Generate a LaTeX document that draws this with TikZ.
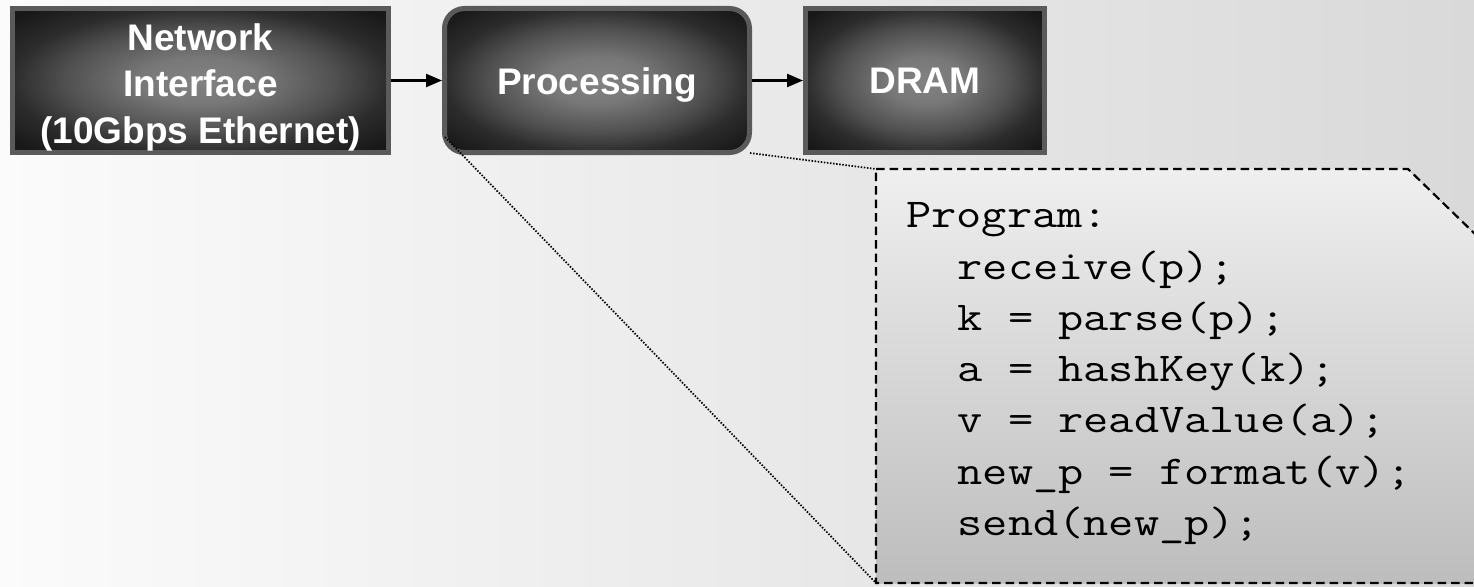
\documentclass[tikz,border=0pt]{standalone}
\usepackage{fontspec}
\setmainfont{Liberation Sans}
\usetikzlibrary{arrows.meta}

\definecolor{bgleft}{HTML}{FBFBFB}
\definecolor{bgright}{HTML}{D9D9D9}
\definecolor{boxedge}{HTML}{5A5A5A}
\definecolor{boxmid}{HTML}{828282}
\definecolor{boxsoft}{HTML}{787878}
\definecolor{boxhalf}{HTML}{505050}
\definecolor{boxrim}{HTML}{2C2C2C}
\definecolor{boxdark}{HTML}{181818}
\definecolor{codetop}{HTML}{EFEFEF}
\definecolor{codebot}{HTML}{BDBDBD}

% glow from a grey centre to near-black edges
\pgfdeclareradialshading{boxglow}{\pgfpoint{0bp}{0bp}}{%
  color(0bp)=(boxmid); color(8bp)=(boxsoft); color(18bp)=(boxhalf);
  color(25bp)=(boxrim); color(33bp)=(boxdark); color(50bp)=(boxdark)}

% typewriter lines, widened to the listing's character pitch
\newcommand{\codetext}[1]{\scalebox{1.194}[1]{#1}}

\tikzset{
  block/.style={draw=boxedge, line width=5pt, shading=boxglow,
    minimum height=144pt, inner sep=0pt},
  blocktext/.style={text=white, align=center, inner sep=0pt,
    font=\bfseries\fontsize{37}{46.5}\selectfont},
  flow/.style={line width=2.4pt, -{Triangle[length=16pt,width=13pt]}},
  zoomline/.style={line width=1.7pt, dash pattern=on 1.5pt off 1.6pt},
  codeframe/.style={line width=2.2pt, dash pattern=on 8.5pt off 5pt,
    top color=codetop, bottom color=codebot},
  codeline/.style={anchor=base west, inner sep=0pt,
    font=\ttfamily\fontsize{41}{51}\selectfont}
}

\begin{document}
\begin{tikzpicture}[x=1pt, y=-1pt]
  \useasboundingbox (0,0) rectangle (1474,586);
  \clip (0,0) rectangle (1474,586);

  % backdrop
  \fill[left color=bgleft, right color=bgright] (0,0) rectangle (1474,586);

  % pipeline blocks
  \node[block, minimum width=376pt] (nic) at (200.5,80.5) {};
  \node[block, minimum width=305pt, rounded corners=20pt] (proc) at (597,80.5) {};
  \node[block, minimum width=239pt] (dram) at (925,80.5) {};

  \node[blocktext, yshift=-6.5pt] (nictext) at (nic.center)
    {Network\\Interface\\(10Gbps Ethernet)};
  \node[blocktext, yshift=-5pt] (proctext) at (proc.center) {Processing};
  \node[blocktext, yshift=-0.5pt] (dramtext) at (dram.center) {DRAM};

  \draw[flow] (nic.east) -- (proc.west);
  \draw[flow] (proc.east) -- (dram.west);

  % program listing frame with clipped top-right corner
  \coordinate (ctl) at (876,169);
  \coordinate (cbl) at (876,583);
  \filldraw[codeframe] (ctl) -- (1408,169) -- (1510,268) -- (1510,583)
    -- (cbl) -- cycle;

  % zoom lines from the processing block to the listing
  \coordinate (pbl) at (445,137);
  \coordinate (pbr) at (750,153);
  \draw[zoomline] (pbl) -- (cbl);
  \draw[zoomline] (pbr) -- (ctl);

  % listing
  \node[codeline] (l0) at (906,227) {\codetext{Program:}};
  \node[codeline] (l1) at (957.4,279) {\codetext{receive(p);}};
  \node[codeline] (l2) at (957.4,330) {\codetext{k = parse(p);}};
  \node[codeline] (l3) at (957.4,381) {\codetext{a = hashKey(k);}};
  \node[codeline] (l4) at (957.4,432) {\codetext{v = readValue(a);}};
  \node[codeline] (l5) at (957.4,484) {\codetext{new\_p = format(v);}};
  \node[codeline] (l6) at (957.4,535) {\codetext{send(new\_p);}};
\end{tikzpicture}
\end{document}
